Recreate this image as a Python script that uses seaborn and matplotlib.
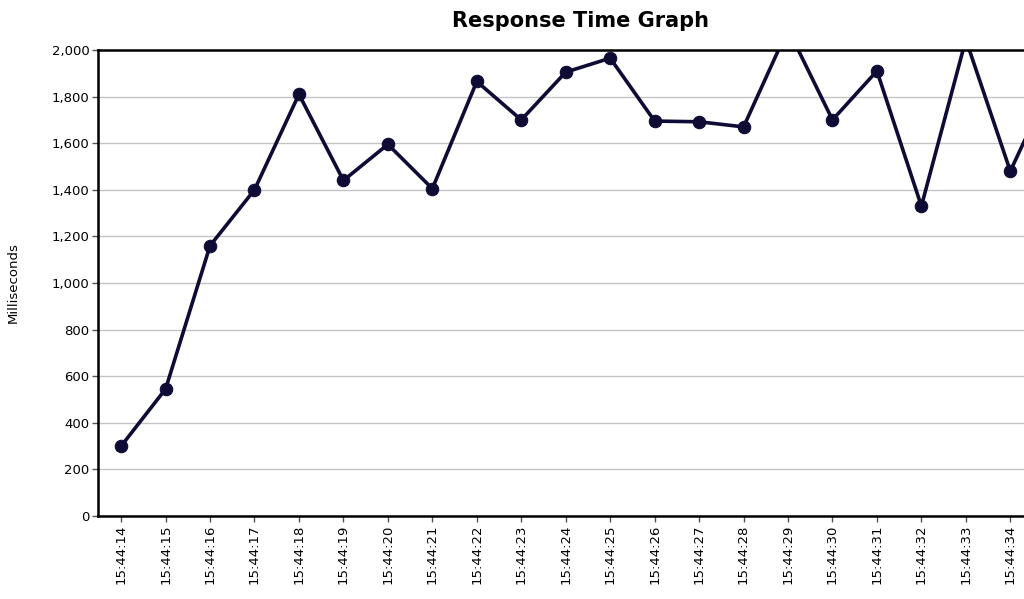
import matplotlib
matplotlib.use("Agg")
import matplotlib.pyplot as plt
import seaborn as sns
import pandas as pd

times = ["15:44:14", "15:44:15", "15:44:16", "15:44:17", "15:44:18", "15:44:19",
         "15:44:20", "15:44:21", "15:44:22", "15:44:23", "15:44:24", "15:44:25",
         "15:44:26", "15:44:27", "15:44:28", "15:44:29", "15:44:30", "15:44:31",
         "15:44:32", "15:44:33", "15:44:34", "15:44:35"]
response_ms = [300, 545, 1160, 1400, 1810, 1440, 1595, 1405, 1865, 1700, 1905, 1965,
               1695, 1692, 1670, 2090, 1700, 1910, 1330, 2045, 1480, 1890]

df = pd.DataFrame({"time": times, "ms": response_ms, "idx": range(len(times))})

sns.set_theme(style="white")
plt.rcParams['font.family'] = ['DejaVu Sans']
plt.rcParams['text.color'] = 'black'
plt.rcParams['axes.labelcolor'] = 'black'
plt.rcParams['xtick.color'] = 'black'
plt.rcParams['ytick.color'] = 'black'

fig = plt.figure(figsize=(10.24, 5.99), dpi=100)
ax = fig.add_axes([98/1024, 1-516/599, (1077-98)/1024, (516-50)/599])

color = "#0e0b35"
sns.lineplot(data=df, x="idx", y="ms", ax=ax, color=color, linewidth=2.6,
             marker="o", markersize=9, markeredgecolor=color, markerfacecolor=color)

ax.set_xlim(-0.52, len(times) - 0.5)
ax.set_ylim(0, 2000)
# the last time stamp lies beyond the visible (cropped) area
visible = len(times) - 1
ax.set_xticks(range(visible))
ax.set_xticklabels(times[:visible], rotation=90, fontsize=9.5)
ax.set_yticks(range(0, 2001, 200))
ax.set_yticklabels([f"{v:,}" for v in range(0, 2001, 200)], fontsize=9.5)
ax.yaxis.grid(True, color="#c4c4c4", linewidth=1.0)
ax.xaxis.grid(False)
ax.set_axisbelow(True)

for s in ["left", "bottom", "top"]:
    ax.spines[s].set_visible(True)
    ax.spines[s].set_color("black")
    ax.spines[s].set_linewidth(1.8)
ax.spines["right"].set_visible(False)

ax.tick_params(axis="both", which="both", direction="out", length=4, width=1,
               color="#555555", labelcolor="black", left=True, bottom=True, pad=2)

ax.set_xlabel("")
ax.set_ylabel("Milliseconds", fontsize=9.5, color="black")
ax.yaxis.set_label_coords(-0.08, 0.5)

fig.text(581/1024, 1-21/599, "Response Time Graph", ha="center", va="center",
         fontsize=15, fontweight="bold", color="black")

fig.savefig("out.png", dpi=100)
